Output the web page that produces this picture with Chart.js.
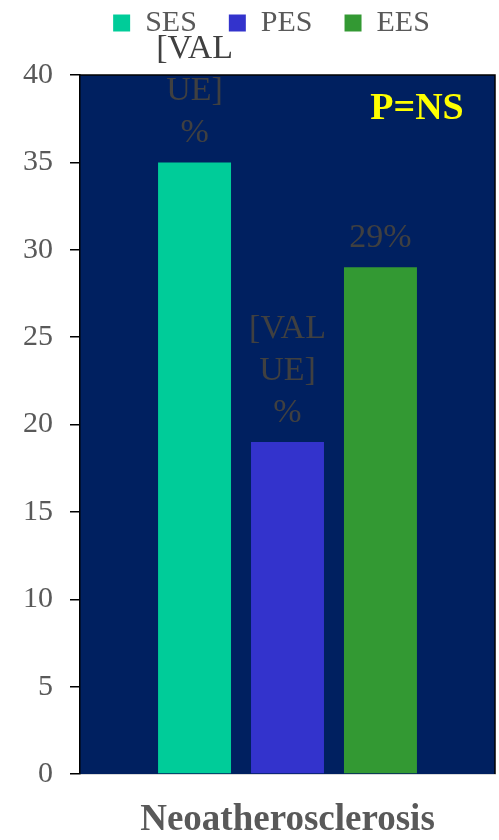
<!DOCTYPE html>
<html>
<head>
<meta charset="utf-8">
<script src="https://cdn.jsdelivr.net/npm/chart.js@4"></script>
<style>
  html, body { margin: 0; padding: 0; background: #ffffff; }
  canvas { display: block; }
</style>
</head>
<body>
<canvas id="neoChart" width="499" height="840"></canvas>
<script>
// chart values
const categories = ['Neoatherosclerosis'];
const seriesNames = ['SES', 'PES', 'EES'];
const sesValues = [35];
const pesValues = [19];
const eesValues = [29];
const seriesColors = ['#00CC99', '#3333CC', '#339933'];
// data label text as shown (wrapped in the original)
const valueLabels = [['[VAL', 'UE]', '%'], ['[VAL', 'UE]', '%'], ['29%']];
const yTicks = { min: 0, max: 40, step: 5 };
const pValueText = 'P=NS';

document.addEventListener('DOMContentLoaded', function () {
    const ctx = document.getElementById('neoChart').getContext('2d');

    // navy plot area, frame and P value text
    const plotArea = {
        id: 'plotArea',
        beforeDraw(chart) {
            const { ctx, chartArea: a } = chart;
            ctx.save();
            ctx.fillStyle = '#002060';
            ctx.fillRect(a.left, a.top, a.width, a.height);
            ctx.restore();
        },
        afterDraw(chart) {
            const { ctx, chartArea: a } = chart;
            ctx.save();
            ctx.strokeStyle = '#000000';
            ctx.lineWidth = 1.5;
            ctx.beginPath();
            ctx.moveTo(a.left, a.top);
            ctx.lineTo(a.right, a.top);
            ctx.lineTo(a.right, a.bottom);
            ctx.stroke();
            ctx.fillStyle = '#FFFF00';
            ctx.font = 'bold 38px "Liberation Serif"';
            ctx.textAlign = 'center';
            ctx.textBaseline = 'middle';
            ctx.fillText(pValueText, a.right - 78, a.top + 34);
            ctx.restore();
        }
    };

    // value labels above the bars
    const barLabels = {
        id: 'barLabels',
        afterDatasetsDraw(chart) {
            const { ctx } = chart;
            ctx.save();
            ctx.fillStyle = '#404040';
            ctx.font = '34px "Liberation Serif"';
            ctx.textAlign = 'center';
            ctx.textBaseline = 'alphabetic';
            chart.data.datasets.forEach((ds, i) => {
                const meta = chart.getDatasetMeta(i);
                meta.data.forEach(bar => {
                    const lines = valueLabels[i];
                    lines.forEach((line, k) => {
                        const y = bar.y - 20 - (lines.length - 1 - k) * 42;
                        ctx.fillText(line, bar.x, y);
                    });
                });
            });
            ctx.restore();
        }
    };

    // fixed legend band, legend row nudged up and right like the original
    const legendBand = {
        id: 'legendBand',
        beforeLayout(chart) {
            const lg = chart.legend;
            if (lg && !lg._bandSet) {
                const fit = lg.fit;
                lg.fit = function () {
                    fit.call(this);
                    this.height = 75;
                };
                const draw = lg.draw;
                lg.draw = function () {
                    this.ctx.save();
                    this.ctx.translate(24, -24);
                    draw.apply(this, arguments);
                    this.ctx.restore();
                };
                lg._bandSet = true;
            }
        }
    };

    new Chart(ctx, {
        type: 'bar',
        data: {
            labels: categories,
            datasets: [sesValues, pesValues, eesValues].map((vals, i) => ({
                label: seriesNames[i],
                data: vals,
                backgroundColor: seriesColors[i],
                borderWidth: 0
            }))
        },
        options: {
            responsive: false,
            animation: false,
            events: [],
            layout: { padding: { top: 0, left: 0, right: 4, bottom: 2 } },
            datasets: {
                bar: { categoryPercentage: 0.672, barPercentage: 0.785 }
            },
            plugins: {
                tooltip: { enabled: false },
                legend: {
                    position: 'top',
                    labels: {
                        boxWidth: 17,
                        boxHeight: 17,
                        padding: 32,
                        color: '#595959',
                        font: { family: 'Liberation Serif', size: 30 }
                    }
                }
            },
            scales: {
                x: {
                    afterFit(scale) { scale.height = 64; },
                    grid: { display: false, drawTicks: false },
                    border: { color: '#d9d9d9', width: 1 },
                    ticks: {
                        color: '#595959',
                        padding: 24,
                        font: { family: 'Liberation Serif', size: 37, weight: 'bold', lineHeight: 1.2 }
                    }
                },
                y: {
                    min: yTicks.min,
                    max: yTicks.max,
                    afterFit(scale) { scale.width = 80; },
                    grid: { drawOnChartArea: false, color: '#000000', tickLength: 10, lineWidth: 1.5 },
                    border: { color: '#000000', width: 1.5 },
                    ticks: {
                        stepSize: yTicks.step,
                        color: '#595959',
                        padding: 17,
                        font: { family: 'Liberation Serif', size: 30 }
                    }
                }
            }
        },
        plugins: [plotArea, barLabels, legendBand]
    });
});
</script>
</body>
</html>
